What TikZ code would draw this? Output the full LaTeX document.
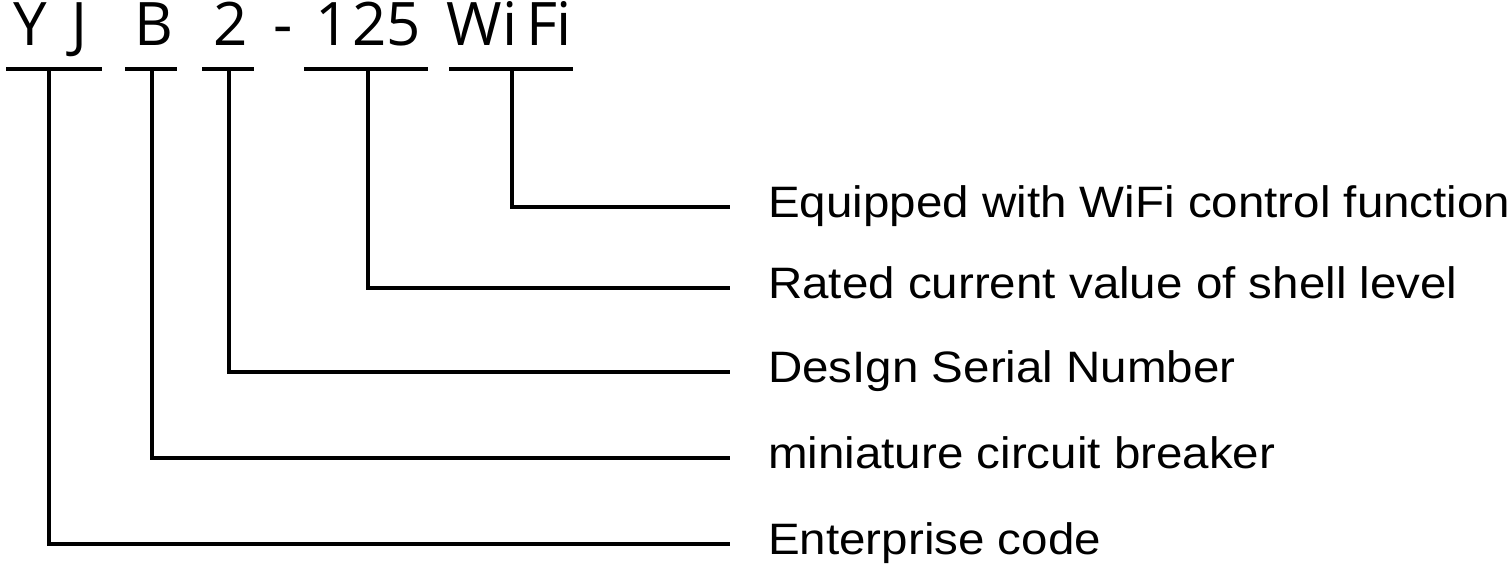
\documentclass[tikz,border=0pt]{standalone}
\usepackage{fontspec}
\newfontfamily\topfont{Open Sans}
\newfontfamily\labfont[FakeStretch=1.08]{Liberation Sans}
\begin{document}
\begin{tikzpicture}[x=1pt,y=-1pt,
  ch/.style={anchor=base,inner sep=0pt,font=\topfont\fontsize{60}{66}\selectfont},
  lab/.style={anchor=base west,inner sep=0pt,font=\labfont\fontsize{44}{52}\selectfont},
  bar/.style={line width=4.5pt,line cap=butt},
  conn/.style={line width=4.5pt,line join=miter}]
\useasboundingbox (0,0) rectangle (1512,576);
% code characters
\node[ch] (cY) at (30,45) {Y};
\node[ch] (cJ) at (80,45) {J};
\node[ch] (cB) at (154,45) {B};
\node[ch] (c2) at (231,45) {2};
\node[ch] (cd) at (283,45) {-};
\node[ch] (c1) at (333,45) {1};
\node[ch] (c2b) at (370,45) {2};
\node[ch] (c5) at (404,45) {5};
\node[ch] (cW) at (474,45) {W};
\node[ch] (ci) at (510,45) {i};
\node[ch] (cF) at (542,45) {F};
\node[ch] (ci2) at (564,45) {i};
% underlines
\coordinate (u1a) at (6,69);   \coordinate (u1b) at (102,69);
\coordinate (u2a) at (125,69); \coordinate (u2b) at (177,69);
\coordinate (u3a) at (202,69); \coordinate (u3b) at (254,69);
\coordinate (u4a) at (304,69); \coordinate (u4b) at (428,69);
\coordinate (u5a) at (449,69); \coordinate (u5b) at (573,69);
\draw[bar] (u1a) -- (u1b);
\draw[bar] (u2a) -- (u2b);
\draw[bar] (u3a) -- (u3b);
\draw[bar] (u4a) -- (u4b);
\draw[bar] (u5a) -- (u5b);
% stems
\coordinate (s1) at (49,69);
\coordinate (s2) at (152,69);
\coordinate (s3) at (229,69);
\coordinate (s4) at (368,69);
\coordinate (s5) at (512,69);
% line ends
\coordinate (e5) at (730,207);
\coordinate (e4) at (730,288);
\coordinate (e3) at (730,372);
\coordinate (e2) at (730,458);
\coordinate (e1) at (730,544);
% labels
\node[lab] (l5) at (768,217) {Equipped with WiFi control function};
\node[lab] (l4) at (768,298) {Rated current value of shell level};
\node[lab] (l3) at (768,382) {DesIgn Serial Number};
\node[lab] (l2) at (768,468) {miniature circuit breaker};
\node[lab] (l1) at (768,554) {Enterprise code};
% connectors
\draw[conn] (s5) |- (e5);
\draw[conn] (s4) |- (e4);
\draw[conn] (s3) |- (e3);
\draw[conn] (s2) |- (e2);
\draw[conn] (s1) |- (e1);
\end{tikzpicture}
\end{document}
